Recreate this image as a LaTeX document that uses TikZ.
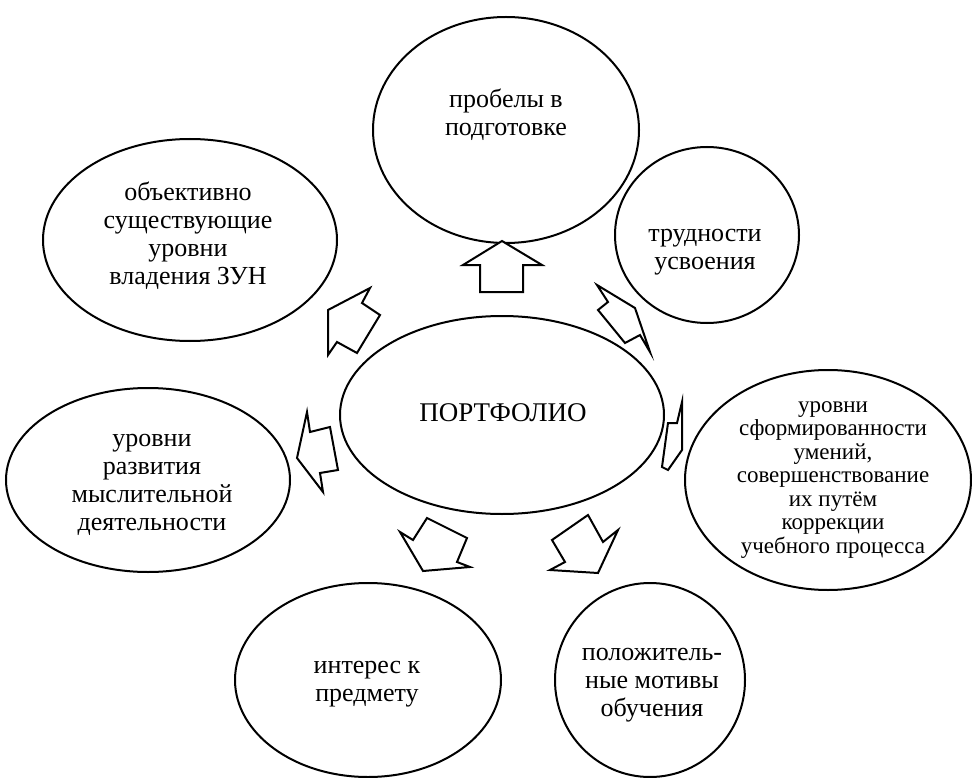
\documentclass[tikz,border=0pt]{standalone}
\usepackage{fontspec}
\setmainfont{Liberation Serif}
\usetikzlibrary{shapes.geometric}
\begin{document}
\begin{tikzpicture}[x=1pt,y=-1pt,
  bub/.style={draw, line width=2pt, ellipse, inner sep=0pt},
  txt/.style={align=center, font=\fontsize{26}{28}\selectfont, inner sep=0pt},
  txtsm/.style={align=center, font=\fontsize{23}{23.5}\selectfont, inner sep=0pt},
  barrow/.style={draw, line width=2pt, line join=miter, fill=white}]
\useasboundingbox (0,0) rectangle (972,778);
\clip (0,0) rectangle (972,778);
% ellipses
\node[bub, minimum width=266pt, minimum height=226pt] (top) at (506,130) {};
\node[bub, minimum width=184pt, minimum height=176pt] (tr) at (707,235) {};
\node[bub, minimum width=294pt, minimum height=202pt] (tl) at (190,240) {};
\node[bub, minimum width=324pt, minimum height=198pt] (mid) at (502,415) {};
\node[bub, minimum width=286pt, minimum height=220pt] (rt) at (828,480) {};
\node[bub, minimum width=284pt, minimum height=184pt] (lt) at (148,480) {};
\node[bub, minimum width=266pt, minimum height=194pt] (bl) at (368,680) {};
\node[bub, minimum width=190pt, minimum height=194pt] (br) at (650,680) {};
% texts
\node[txt] (ttop) at (506,115) {пробелы в\\подготовке};
\node[txt] (ttr) at (705,252) {трудности\\усвоения};
\node[txt] (ttl) at (188,236) {объективно\\существующие\\уровни\\владения ЗУН};
\node[txt, font=\fontsize{27}{28}\selectfont] (tmid) at (503,413) {ПОРТФОЛИО};
\node[txtsm] (trt) at (833,480) {уровни\\сформированности\\умений,\\совершенствование\\их путём\\коррекции\\учебного процесса};
\node[txt] (tlt) at (152,485) {уровни\\развития\\мыслительной\\деятельности};
\node[txt] (tbl) at (367,684) {интерес к\\предмету};
\node[txt] (tbr) at (652,685) {положитель-\\ные мотивы\\обучения};
% block arrows
\draw[barrow] (502,241) -- (542,265) -- (523,265) -- (523,292) -- (480,292) -- (480,265) -- (463,265) -- cycle;
\draw[barrow] (597,285) -- (635,308) -- (650,352) -- (640,335) -- (625,343) -- (598,310) -- (608,302) -- cycle;
\draw[barrow] (682,402) -- (682,450) -- (668,470) -- (662,467) -- (668,423) -- (677,423) -- cycle;
\draw[barrow] (588,515) -- (603,542) -- (618,530) -- (598,573) -- (550,570) -- (565,562) -- (552,540) -- cycle;
\draw[barrow] (400,532) -- (413,540) -- (427,518) -- (467,538) -- (457,562) -- (470,567) -- (423,571) -- cycle;
\draw[barrow] (307,412) -- (310,432) -- (330,427) -- (338,470) -- (320,473) -- (323,492) -- (297,458) -- cycle;
\draw[barrow] (370,288) -- (362,303) -- (380,315) -- (357,353) -- (337,342) -- (328,355) -- (328,310) -- cycle;
\end{tikzpicture}
\end{document}
